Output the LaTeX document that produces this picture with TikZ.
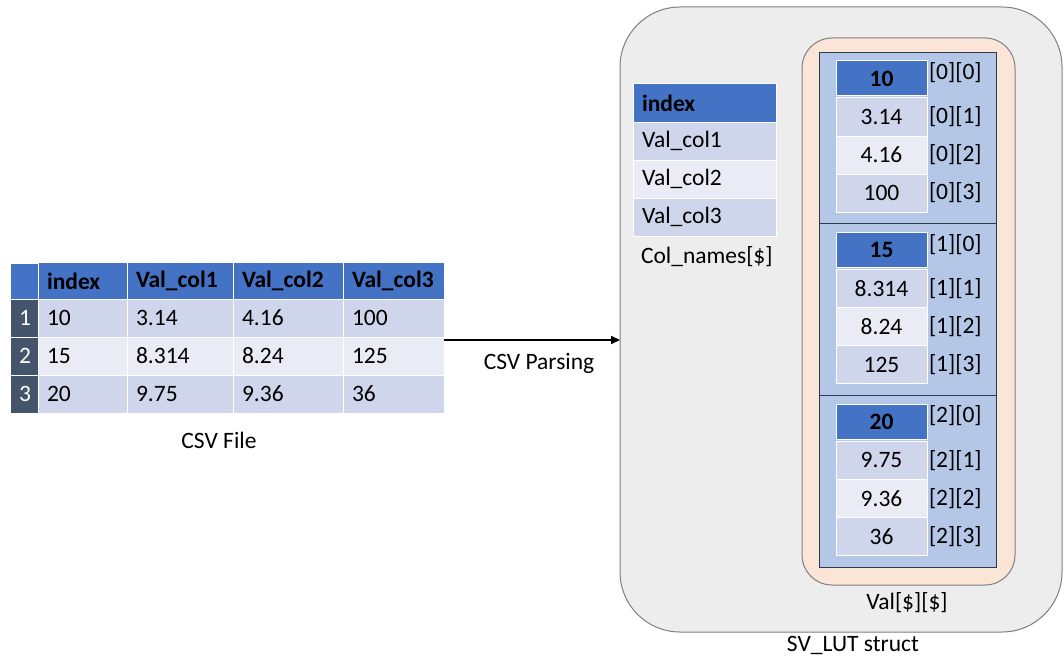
\documentclass[tikz,border=0pt]{standalone}
\usepackage{fontspec}
\setmainfont{Carlito}
\usetikzlibrary{arrows.meta,positioning}
\definecolor{HdrBlue}{HTML}{4472C4}
\definecolor{RowDark}{HTML}{CFD5EA}
\definecolor{RowLight}{HTML}{E9EBF5}
\definecolor{NumDark}{HTML}{44546A}
\definecolor{SecBlue}{HTML}{B4C7E7}
\definecolor{SecLine}{HTML}{2F3A4D}
\definecolor{Peach}{HTML}{FBE5D6}
\definecolor{BoxFill}{HTML}{EDEDED}
\definecolor{BoxLine}{HTML}{7F7F7F}
\begin{document}
\begin{tikzpicture}[x=1pt, y=-1pt,
        every node/.append style={font=\fontsize{23.5}{28}\selectfont, inner sep=0pt, outer sep=0pt}]
      \tikzstyle{cell} = [draw=white, line width=1pt, minimum height=38pt, anchor=north west, text=black]
      \tikzstyle{lcell} = [cell, inner xsep=9pt, align=left]
      \tikzstyle{hdr} = [cell, fill=HdrBlue, text=white, font=\fontsize{23.5}{28}\selectfont\bfseries, minimum height=36pt]
      \tikzstyle{numcell} = [cell, fill=NumDark, text=white, text width=10pt, inner xsep=9pt, align=center]
      \tikzstyle{vcell} = [cell, minimum width=91pt]
      \tikzstyle{idx} = [anchor=west, inner xsep=2pt]
      \tikzstyle{arrow} = [-{Triangle[length=9pt, width=8pt]}, line width=2pt]
      \useasboundingbox (0,0) rectangle (1064,658);
      % CSV file
      \node[hdr, text width=10pt, inner xsep=9pt] (r0c0) at (10,263) {};
      \node[hdr, lcell, text width=71pt, right=0pt of r0c0] (r0c1) {index};
      \node[hdr, lcell, text width=88pt, right=0pt of r0c1] (r0c2) {Val\_col1};
      \node[hdr, lcell, text width=92pt, right=0pt of r0c2] (r0c3) {Val\_col2};
      \node[hdr, lcell, text width=83pt, right=0pt of r0c3] (r0c4) {Val\_col3};
      \foreach \n/\a/\b/\c/\d/\s in {1/10/3.14/4.16/100/RowDark, 2/15/8.314/8.24/125/RowLight, 3/20/9.75/9.36/36/RowDark} {
        \pgfmathtruncatemacro\p{\n-1}
        \node[numcell, below=0pt of r\p c0] (r\n c0) {\n};
        \node[lcell, fill=\s, text width=71pt, right=0pt of r\n c0] (r\n c1) {\a};
        \node[lcell, fill=\s, text width=88pt, right=0pt of r\n c1] (r\n c2) {\b};
        \node[lcell, fill=\s, text width=92pt, right=0pt of r\n c2] (r\n c3) {\c};
        \node[lcell, fill=\s, text width=83pt, right=0pt of r\n c3] (r\n c4) {\d};
      }
      \node (csvfile) at (219,440) {CSV File};
      % SV_LUT struct
      \node[draw=BoxLine, fill=BoxFill, line width=1pt, rounded corners=60pt, minimum width=442pt, minimum height=625pt, anchor=north west] (lut) at (620,7) {};
      \node (lutname) at (853,645) {SV\_LUT struct};
      \node[hdr, lcell, text width=125pt] (cn0) at (633,84) {index};
      \node[lcell, fill=RowDark, text width=125pt, below=0pt of cn0] (cn1) {Val\_col1};
      \node[lcell, fill=RowLight, text width=125pt, below=0pt of cn1] (cn2) {Val\_col2};
      \node[lcell, fill=RowDark, text width=125pt, below=0pt of cn2] (cn3) {Val\_col3};
      \node[anchor=west] (cnname) at (641,257) {Col\_names[\$]};
      \node[draw=BoxLine, fill=Peach, line width=1pt, rounded corners=30pt, minimum width=213pt, minimum height=547pt, anchor=north west] (val) at (802,38) {};
      \node (valname) at (907,603) {Val[\$][\$]};
      \foreach \k/\h/\a/\b/\c in {0/10/3.14/4.16/100, 1/15/8.314/8.24/125, 2/20/9.75/9.36/36} {
        \node[draw=SecLine, fill=SecBlue, line width=0.8pt, minimum width=177pt, minimum height=171.67pt, anchor=north west] (s\k) at (819,{52+171.67*\k}) {};
        \node[hdr, vcell, minimum height=35pt] (v\k 0) at ([xshift=17pt, yshift=-9pt]s\k.north west) {\h};
        \node[vcell, fill=RowDark, below=2pt of v\k 0] (v\k 1) {\a};
        \node[vcell, fill=RowLight, below=0pt of v\k 1] (v\k 2) {\b};
        \node[vcell, fill=RowDark, below=0pt of v\k 2] (v\k 3) {\c};
        \node[idx] (l\k 0) at ([yshift=6pt]v\k 0.east) {[\k][0]};
        \node[idx] (l\k 1) at (v\k 1.east) {[\k][1]};
        \node[idx] (l\k 2) at (v\k 2.east) {[\k][2]};
        \node[idx] (l\k 3) at (v\k 3.east) {[\k][3]};
      }
      % parsing
      \coordinate (csvout) at (444,340);
      \draw[arrow] (csvout) -- (csvout -| lut.west);
      \node (parse) at (539,363) {CSV Parsing};
    \end{tikzpicture}
\end{document}
